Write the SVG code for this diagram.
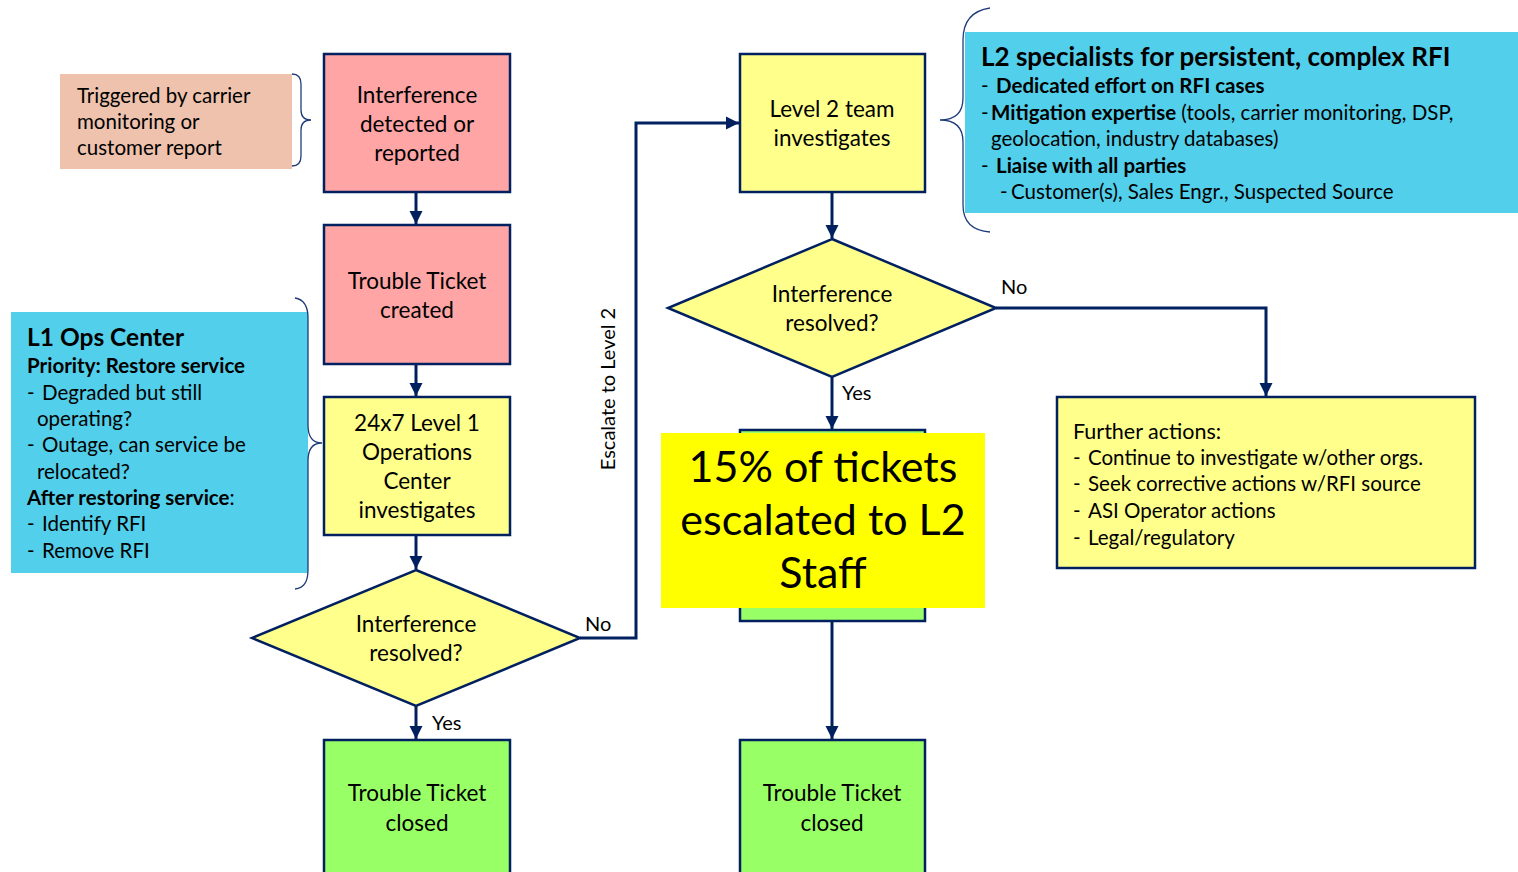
<svg xmlns="http://www.w3.org/2000/svg" width="1518" height="872" viewBox="0 0 1518 872">
<defs>
<marker id="arr" viewBox="0 0 10 10" refX="10" refY="5" markerWidth="4.5" markerHeight="4.5" orient="auto" markerUnits="strokeWidth">
<path d="M0,0 L10,5 L0,10 z" fill="#002060"/>
</marker>
<style>
text{font-family:Lato,"Noto Sans",sans-serif;fill:#000;}
.n{font-size:22.5px;text-anchor:middle;}
.c{font-size:20.5px;}
.b{font-weight:bold;}
.box{stroke:#002060;stroke-width:2.5;}
.pink{fill:#FFA5A5;}
.yel{fill:#FFFF8C;}
.grn{fill:#99FF66;}
.con{fill:none;stroke:#002060;stroke-width:3;marker-end:url(#arr);}
.brace{fill:none;stroke:#1F3C7A;stroke-width:1.3;}
.lbl{font-size:20px;}
</style>
</defs>
<rect width="1518" height="872" fill="#fff"/>

<g id="note-trigger">
<rect x="60" y="74" width="232" height="95" fill="#EEC2AD"/>
<path class="brace" d="M292,74 Q301,74 301,84 L301,110 Q301,120 311,120 Q301,120 301,130 L301,156 Q301,166 292,166"/>
<text class="c" x="77" y="103">Triggered by carrier</text>
<text class="c" x="77" y="129">monitoring or</text>
<text class="c" x="77" y="155">customer report</text>
</g>

<g id="note-l1">
<rect x="11" y="312" width="297" height="261" fill="#52CFEA"/>
<path class="brace" d="M295,298 Q308,300 308,318 L308,425 Q308,443 322,443 Q308,443 308,461 L308,570 Q308,588 295,589"/>
<text class="b" x="27" y="346" style="font-size:24.5px">L1 Ops Center</text>
<text class="c b" x="27" y="373">Priority: Restore service</text>
<text class="c" x="27" y="400">-<tspan x="42">Degraded but still</tspan></text>
<text class="c" x="37" y="426">operating?</text>
<text class="c" x="27" y="452">-<tspan x="42">Outage, can service be</tspan></text>
<text class="c" x="37" y="479">relocated?</text>
<text class="c" x="27" y="505"><tspan class="b">After restoring service</tspan>:</text>
<text class="c" x="27" y="531">-<tspan x="42">Identify RFI</tspan></text>
<text class="c" x="27" y="558">-<tspan x="42">Remove RFI</tspan></text>
</g>

<g id="note-l2">
<rect x="965" y="32" width="553" height="181" fill="#52CFEA"/>
<path class="brace" d="M990,8 Q963,12 963,40 L963,98 Q963,120 940,120 Q963,120 963,142 L963,205 Q963,230 990,232"/>
<text class="b" x="981" y="66" style="font-size:26px">L2 specialists for persistent, complex RFI</text>
<text class="c" x="981" y="93">-<tspan x="996" class="b">Dedicated effort on RFI cases</tspan></text>
<text class="c" x="981" y="120">-<tspan x="991" class="b">Mitigation expertise</tspan> (tools, carrier monitoring, DSP,</text>
<text class="c" x="991" y="146">geolocation, industry databases)</text>
<text class="c" x="981" y="173">-<tspan x="996" class="b">Liaise with all parties</tspan></text>
<text class="c" x="1000" y="199">-<tspan x="1011">Customer(s), Sales Engr., Suspected Source</tspan></text>
</g>

<g id="connectors">
<line class="con" x1="416" y1="192" x2="416" y2="224"/>
<line class="con" x1="416" y1="364" x2="416" y2="396"/>
<line class="con" x1="416" y1="535" x2="416" y2="569"/>
<line class="con" x1="416" y1="706" x2="416" y2="739"/>
<polyline class="con" points="580,638 636,638 636,123 739,123"/>
<line class="con" x1="832" y1="192" x2="832" y2="238"/>
<line class="con" x1="832" y1="377" x2="832" y2="429"/>
<line class="con" x1="832" y1="621" x2="832" y2="739"/>
<polyline class="con" points="996,308 1266,308 1266,396"/>
<text class="lbl" x="432" y="730">Yes</text>
<text class="lbl" x="585" y="631">No</text>
<text class="lbl" x="842" y="400">Yes</text>
<text class="lbl" x="1001" y="294">No</text>
<text class="lbl" transform="translate(615,389) rotate(-90)" text-anchor="middle">Escalate to Level 2</text>
</g>

<g id="n-detected">
<rect class="box pink" x="324" y="54" width="186" height="138"/>
<text class="n" x="417" y="103">Interference</text>
<text class="n" x="417" y="132">detected or</text>
<text class="n" x="417" y="161">reported</text>
</g>

<g id="n-created">
<rect class="box pink" x="324" y="225" width="186" height="139"/>
<text class="n" x="417" y="289">Trouble Ticket</text>
<text class="n" x="417" y="318">created</text>
</g>

<g id="n-l1">
<rect class="box yel" x="324" y="397" width="186" height="138"/>
<text class="n" x="417" y="431">24x7 Level 1</text>
<text class="n" x="417" y="460">Operations</text>
<text class="n" x="417" y="489">Center</text>
<text class="n" x="417" y="518">investigates</text>
</g>

<g id="d-resolved1">
<polygon class="box yel" points="416,570 580,638 416,706 252,638"/>
<text class="n" x="416" y="632">Interference</text>
<text class="n" x="416" y="661">resolved?</text>
</g>

<g id="n-closed1">
<rect class="box grn" x="324" y="740" width="186" height="140"/>
<text class="n" x="417" y="801">Trouble Ticket</text>
<text class="n" x="417" y="831">closed</text>
</g>

<g id="n-l2">
<rect class="box yel" x="740" y="54" width="185" height="138"/>
<text class="n" x="832" y="117">Level 2 team</text>
<text class="n" x="832" y="146">investigates</text>
</g>

<g id="d-resolved2">
<polygon class="box yel" points="832,239 996,308 832,377 668,308"/>
<text class="n" x="832" y="302">Interference</text>
<text class="n" x="832" y="331">resolved?</text>
</g>

<g id="n-hidden">
<rect class="box grn" x="740" y="430" width="185" height="191"/>
</g>

<g id="callout-15">
<rect x="661" y="433" width="324" height="175" fill="#FFFF00"/>
<text x="823" y="482" text-anchor="middle" style="font-size:43px">15% of tickets</text>
<text x="823" y="535" text-anchor="middle" style="font-size:43px">escalated to L2</text>
<text x="823" y="588" text-anchor="middle" style="font-size:43px">Staff</text>
</g>

<g id="n-closed2">
<rect class="box grn" x="740" y="740" width="185" height="140"/>
<text class="n" x="832" y="801">Trouble Ticket</text>
<text class="n" x="832" y="831">closed</text>
</g>

<g id="n-further">
<rect class="box yel" x="1057" y="397" width="418" height="171"/>
<text class="c" x="1073" y="439" style="font-size:21.5px">Further actions:</text>
<text class="c" x="1073" y="465">-<tspan x="1088">Continue to investigate w/other orgs.</tspan></text>
<text class="c" x="1073" y="491">-<tspan x="1088">Seek corrective actions w/RFI source</tspan></text>
<text class="c" x="1073" y="518">-<tspan x="1088">ASI Operator actions</tspan></text>
<text class="c" x="1073" y="545">-<tspan x="1088">Legal/regulatory</tspan></text>
</g>
</svg>
